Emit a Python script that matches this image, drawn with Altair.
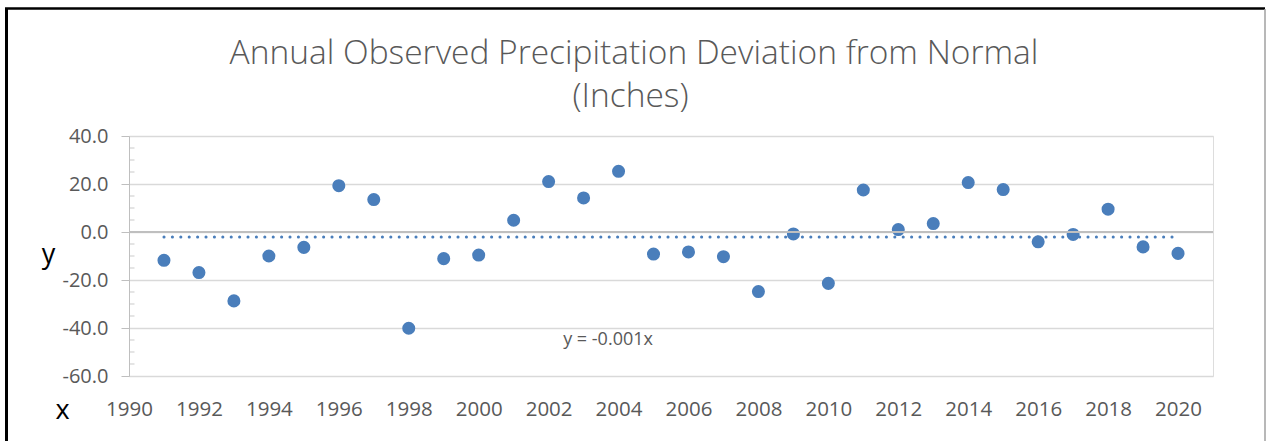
import altair as alt
import pandas as pd

years = list(range(1991, 2021))
deviation = [-11.8, -16.9, -28.7, -10.0, -6.4, 19.3, 13.5, -40.1, -11.1, -9.6,
             4.9, 21.0, 14.2, 25.3, -9.2, -8.3, -10.3, -24.8, -0.8, -21.4,
             17.5, 1.0, 3.5, 20.6, 17.7, -4.1, -1.0, 9.5, -6.2, -8.9]
trend_x = [1991, 2020]
trend_y = [-2.1, -2.1]
x_ticks = list(range(1990, 2021, 2))
y_ticks = [-60, -40, -20, 0, 20, 40]
y_minor = [-55, -50, -45, -35, -30, -25, -15, -10, -5, 5, 10, 15, 25, 30, 35]
eq_label = "y = -0.001x"
eq_x, eq_y = [2003.7], [-45.0]
title_lines = ["Annual Observed Precipitation Deviation from Normal", "(Inches)"]

W, H = 1084, 240
FONT = "Open Sans"
GREY = "#595959"

pts = pd.DataFrame({"year": years, "dev": deviation})
trend = pd.DataFrame({"year": trend_x, "dev": trend_y})
lbl = pd.DataFrame({"year": eq_x, "dev": eq_y, "t": [eq_label]})
minor_df = pd.DataFrame({"dev": y_minor})
zero_df = pd.DataFrame({"dev": [0]})
dummy = pd.DataFrame({"a": [0]})

xscale = alt.Scale(domain=[1990, 2021], nice=False, zero=False)
yscale = alt.Scale(domain=[-60, 40], nice=False, zero=False)

xaxis = alt.Axis(values=x_ticks, format="d", domain=False, ticks=False, grid=False,
                 labelFontSize=20.5, labelColor=GREY, labelFont=FONT, labelPadding=23,
                 labelFlush=False,
                 title="x", titleFontSize=27, titleFont=FONT, titleColor="#000000",
                 titleFontWeight="normal", titleAngle=0, titleX=-67, titleY=34,
                 titleAlign="center", titleBaseline="middle")
yaxis = alt.Axis(values=y_ticks, domain=True, domainColor="#BFBFBF",
                 labelExpr="(datum.value < 0 ? '-' : '') + format(abs(datum.value), '.1f')",
                 ticks=True, tickColor="#BFBFBF", tickSize=8, grid=True,
                 gridColor="#D9D9D9", gridWidth=1.5,
                 labelFontSize=20, labelColor=GREY, labelFont=FONT, labelPadding=13,
                 title="y", titleFontSize=27, titleFont=FONT, titleColor="#000000",
                 titleFontWeight="normal", titleAngle=0, titleX=-81, titleY=118,
                 titleAlign="center", titleBaseline="middle")

X = alt.X("year:Q", scale=xscale, axis=xaxis)
Y = alt.Y("dev:Q", scale=yscale, axis=yaxis)

points = alt.Chart(pts).mark_circle(size=170, color="#4A7EBB", opacity=1).encode(x=X, y=Y)

zero_line = alt.Chart(zero_df).mark_rule(color="#BFBFBF", strokeWidth=2).encode(y=Y)

minor_ticks = alt.Chart(minor_df).mark_tick(
    orient="horizontal", color="#BFBFBF", size=5, thickness=1.2
).encode(y=Y, x=alt.value(3))

trend_line = alt.Chart(trend).mark_line(
    color="#4A7EBB", strokeWidth=3, strokeDash=[0.1, 8.3], strokeCap="round"
).encode(x=X, y=Y)

eq_text = alt.Chart(lbl).mark_text(fontSize=18, font=FONT, color=GREY).encode(
    x=X, y=Y, text="t:N",
)

# chart title (two lines), drawn as text so the frame does not push it
title1 = alt.Chart(dummy).mark_text(
    text=title_lines[0], fontSize=33.5, font=FONT, fontWeight=300, color=GREY,
    align="center", baseline="alphabetic"
).encode(x=alt.value(505), y=alt.value(-72.5))
title2 = alt.Chart(dummy).mark_text(
    text=title_lines[1], fontSize=33.5, font=FONT, fontWeight=300, color=GREY,
    align="center", baseline="alphabetic"
).encode(x=alt.value(501.5), y=alt.value(-29))

# frame around the whole chart (decoration)
left_border = alt.Chart(dummy).mark_rule(color="#000000", strokeWidth=3).encode(
    x=alt.value(-122.5), y=alt.value(-128), y2=alt.value(310))
top_border = alt.Chart(dummy).mark_rule(color="#000000", strokeWidth=2.5).encode(
    y=alt.value(-127.5), x=alt.value(-124), x2=alt.value(1136))
right_border = alt.Chart(dummy).mark_rule(color="#A0A0A0", strokeWidth=1.5).encode(
    x=alt.value(1136), y=alt.value(-127), y2=alt.value(310))

chart = alt.layer(
    points, zero_line, minor_ticks, trend_line, eq_text, title1, title2,
    left_border, top_border, right_border
).properties(
    width=W, height=H,
    autosize=alt.AutoSizeParams(type="none"),
    padding={"left": 129, "top": 136, "right": 53, "bottom": 65},
).configure_view(stroke=None).configure(background="#FFFFFF")

chart.save("out.html", embed_options={"renderer": "svg", "actions": False})
